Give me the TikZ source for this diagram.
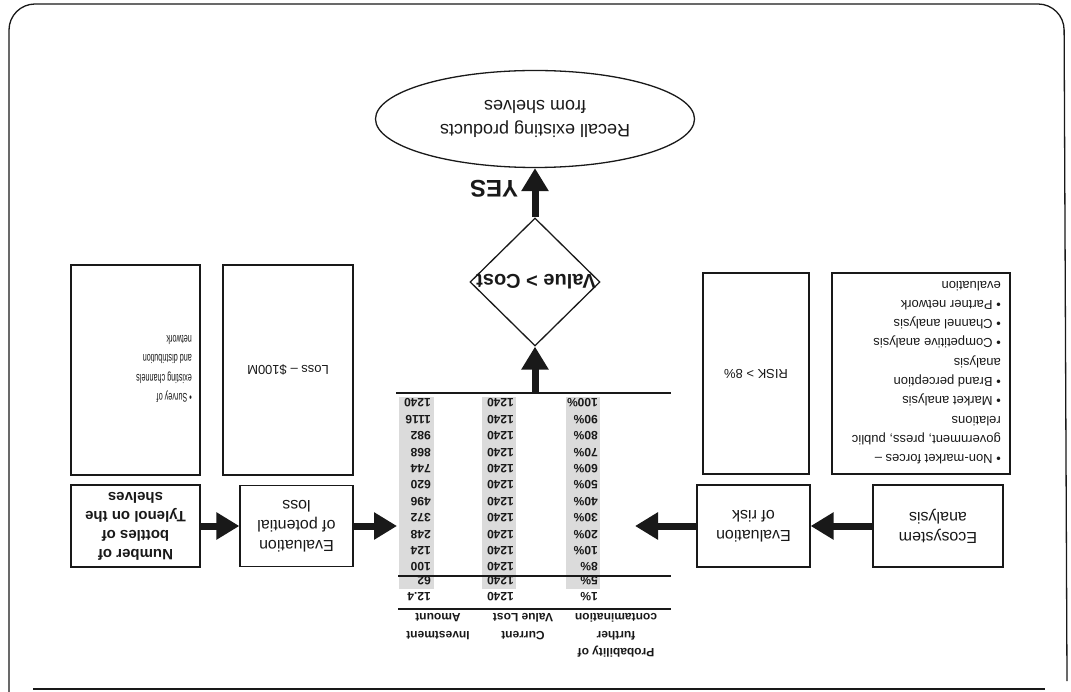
\documentclass[tikz,border=0pt]{standalone}
\usepackage{fontspec}
\setmainfont{Liberation Sans}
\usetikzlibrary{arrows.meta,shapes.geometric}
\definecolor{ink}{gray}{0.1}
\definecolor{cellgray}{gray}{0.86}
\begin{document}
\begin{tikzpicture}[x=1pt,y=-1pt,
  every node/.style={text=ink},
  box/.style={draw=ink, line width=1.3pt, rotate=180, inner sep=0pt, align=center},
  txt/.style={rotate=180, inner sep=0pt},
  bt/.style={font=\fontsize{16}{20}\selectfont},
  st/.style={font=\fontsize{13}{19.3}\selectfont},
  tt/.style={txt, font=\bfseries\fontsize{12}{17.5}\selectfont},
  arr/.style={draw=ink, line width=7pt, -{Triangle[length=23pt,width=26pt]}},
  rule/.style={draw=ink, line width=1.6pt}]
\useasboundingbox (0,0) rectangle (1071,692);

% frame
\draw[ink, line width=1.3pt, rounded corners=26pt] (9,692) -- (9,4) -- (1064,4) -- (1067,681);
\draw[ink, line width=2pt] (33,689) -- (1045,689);

% shading behind table figures
\fill[cellgray] (399,397) rectangle (434,589);
\fill[cellgray] (482,397) rectangle (516,589);
\fill[cellgray] (566,397) rectangle (600,589);

% ellipse and decision
\node[box, ellipse, minimum width=319pt, minimum height=97pt, font=\fontsize{18}{24}\selectfont] (rec) at (535,119) {Recall existing products\\from shelves};
\node[box, diamond, minimum width=130pt, minimum height=128pt] (dia) at (535,282) {};
\node[txt, font=\bfseries\fontsize{20}{24}\selectfont] (diat) at (536,282) {Value > Cost};
\node[txt, font=\bfseries\fontsize{24}{28}\selectfont] (yes) at (494,189) {YES};
\draw[arr] (dia.south) -- (rec.north);

% table
\coordinate (t1) at (396,393); \coordinate (t2) at (671,393);
\draw[ink, line width=2.2pt] (t1) -- (t2);
\coordinate (m1) at (398,576); \coordinate (m2) at (671,576);
\coordinate (b1) at (398,609); \coordinate (b2) at (671,609);
\draw[rule] (m1) -- (m2);
\draw[rule] (b1) -- (b2);
\coordinate (tc) at (535,393);
\draw[arr] (tc) -- (dia.north);

\foreach \p/\v [count=\i from 0] in {100/1240,90/1116,80/982,70/868,60/744,50/620,40/496,30/372,20/248,10/124,8/100} {
  \node[tt, anchor=west] (pa\i) at (598,{403+16.4*\i}) {\p\%};
  \node[tt, anchor=west] (va\i) at (514,{403+16.4*\i}) {1240};
  \node[tt, anchor=west] (ia\i) at (431,{403+16.4*\i}) {\v};
}
\node[tt, anchor=west] (p5) at (598,581) {5\%};
\node[tt, anchor=west] (v5) at (514,581) {1240};
\node[tt, anchor=west] (i5) at (431,581) {62};
\node[tt, anchor=west] (p1) at (598,597) {1\%};
\node[tt, anchor=west] (v1) at (514,597) {1240};
\node[tt, anchor=west] (i1) at (431,597) {12.4};

\node[tt, align=center] (h1) at (616,635.5) {Probability of\\further\\contamination};
\node[tt, align=center] (h2) at (523,626.5) {Current\\Value Lost};
\node[tt, align=center] (h3) at (438,626.5) {Investment\\Amount};

% left side
\node[box, font=\bfseries\fontsize{15}{19}\selectfont, minimum width=129pt, minimum height=82pt] (num) at (135.5,526) {Number of\\bottles of\\Tylenol on the\\shelves};
\node[box, bt, minimum width=113pt, minimum height=81pt] (evl) at (296.5,526) {Evaluation\\of potential\\loss};
\node[box, minimum width=129pt, minimum height=210pt] (svy) at (135.5,370) {};
\node[txt, anchor=west, align=left, xscale=0.58, font=\fontsize{12.5}{19.5}\selectfont] (svyt) at (192,369) {• Survey of\\existing channels\\and distribution\\network};
\node[box, st, minimum width=130pt, minimum height=210pt] (loss) at (288,370) {Loss – \$100M};
\coordinate (tl) at (397,526);
\draw[arr] (num.west) -- (evl.east);
\draw[arr] (evl.west) -- (tl);

% right side
\node[box, bt, minimum width=130pt, minimum height=82pt] (eco) at (938,526) {Ecosystem\\analysis};
\node[box, bt, minimum width=113pt, minimum height=82pt] (evr) at (753.5,526) {Evaluation\\of risk};
\node[box, st, minimum width=106pt, minimum height=201pt] (risk) at (756,373.5) {RISK > 8\%};
\node[box, minimum width=178pt, minimum height=201pt] (blt) at (921,373.5) {};
\node[txt, st, anchor=west, align=left] (bltt) at (1001,372.5) {• Non-market forces –\\government, press, public\\relations\\• Market analysis\\• Brand perception\\analysis\\• Competitive analysis\\• Channel analysis\\• Partner network\\evaluation};
\coordinate (tr) at (635,526);
\draw[arr] (eco.east) -- (evr.west);
\draw[arr] (evr.east) -- (tr);
\end{tikzpicture}
\end{document}
